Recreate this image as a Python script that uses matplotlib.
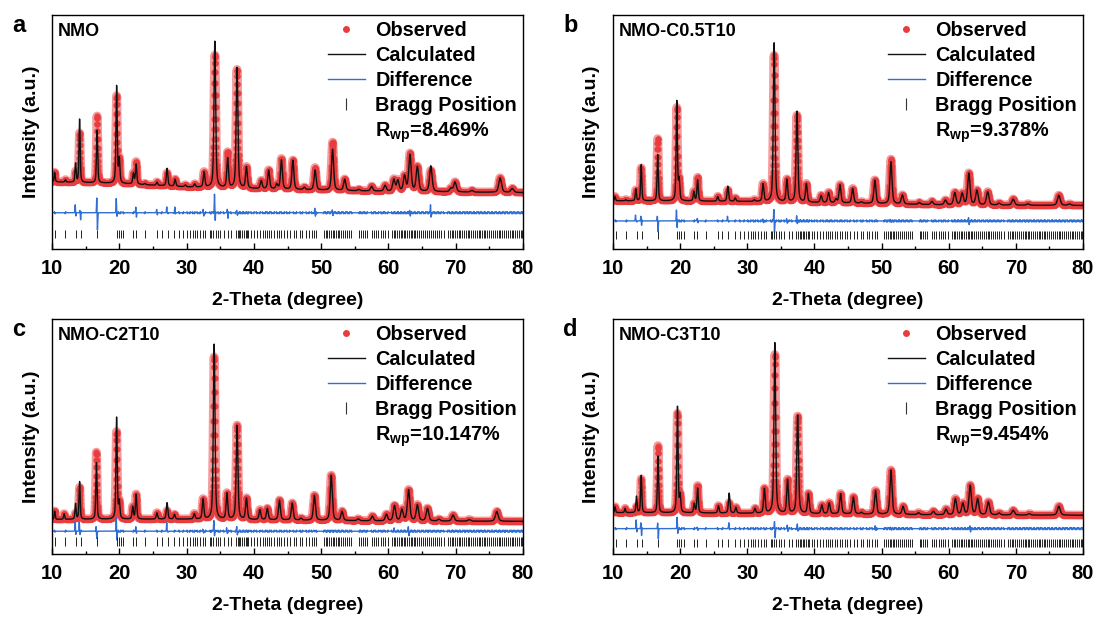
import numpy as np
import matplotlib
matplotlib.use('Agg')
import matplotlib.pyplot as plt
from matplotlib.lines import Line2D
from matplotlib.ticker import MultipleLocator

plt.rcParams['font.family'] = ['Liberation Sans', 'DejaVu Sans']
plt.rcParams['font.weight'] = 'bold'
plt.rcParams['mathtext.fontset'] = 'custom'
plt.rcParams['mathtext.rm'] = 'Liberation Sans:bold'
plt.rcParams['mathtext.it'] = 'Liberation Sans:bold'
plt.rcParams['mathtext.bf'] = 'Liberation Sans:bold'

# ---- reflections (2theta, degree) and intensities above background (a.u.) ----
pos_a = [10.4, 12.0, 13.5, 14.1, 16.7, 19.6, 20.0, 22.1, 22.5, 23.8, 25.6, 27.1, 28.3, 29.8, 31.2,
         32.6, 34.2, 36.1, 37.5, 38.9, 41.1, 42.2, 43.4, 44.1, 45.8, 47.5, 49.1, 51.7, 53.5, 55.6,
         57.5, 59.5, 60.8, 61.4, 62.4, 63.2, 64.3, 66.3, 69.3, 69.9, 72.4, 76.6, 78.4]
obs_a = [4.0, 1.0, 4.5, 21.0, 28.5, 37.0, 10.0, 4.5, 9.5, 0.5, 1.4, 5.5, 3.0, 0.8, 1.3,
         6.5, 56.5, 15.0, 50.5, 9.0, 3.4, 8.0, 2.0, 13.0, 12.5, 1.0, 9.5, 20.5, 4.8, 0.6,
         2.0, 2.5, 5.0, 4.5, 6.5, 16.0, 10.5, 9.0, 1.5, 4.2, 0.7, 6.2, 1.7]
calc_a = [4.0, 1.0, 8.0, 27.0, 22.5, 41.5, 10.0, 4.5, 8.5, 0.5, 1.4, 7.5, 3.0, 0.8, 1.3,
          6.5, 62.5, 12.5, 51.5, 9.0, 3.4, 8.0, 2.0, 12.5, 12.5, 1.0, 8.5, 17.5, 4.8, 0.6,
          2.0, 2.5, 5.0, 4.5, 6.5, 15.5, 10.5, 11.0, 1.5, 4.2, 0.7, 6.2, 1.7]

pos_b = [10.3, 11.9, 13.4, 14.2, 16.65, 19.5, 19.85, 22.05, 22.6, 25.6, 27.1, 28.2, 31.05, 32.35,
         34.0, 35.9, 37.4, 38.8, 41.0, 42.1, 43.2, 43.8, 45.7, 47.0, 49.0, 51.4, 53.1, 55.6, 57.5,
         59.5, 60.9, 62.0, 63.0, 64.2, 65.8, 67.5, 69.6, 71.8, 76.4, 78.0]
obs_b = [1.8, 0.5, 4.5, 14.0, 26.5, 39.5, 8.5, 4.0, 10.0, 2.0, 4.8, 1.4, 0.7, 7.5,
         62.5, 9.5, 37.0, 7.8, 3.0, 4.3, 1.5, 7.7, 6.2, 0.6, 10.0, 19.0, 3.8, 0.8, 1.4,
         2.0, 5.2, 4.8, 13.5, 6.2, 5.6, 0.8, 2.6, 0.6, 4.3, 0.6]
calc_b = [1.8, 0.5, 5.0, 15.4, 19.8, 42.6, 8.5, 4.0, 9.0, 2.0, 6.4, 1.4, 0.7, 7.5,
          67.9, 9.5, 38.8, 7.8, 3.0, 4.3, 1.5, 7.7, 6.2, 0.6, 10.0, 18.0, 3.8, 0.8, 1.4,
          2.0, 5.2, 4.8, 13.5, 6.2, 5.6, 0.8, 2.6, 0.6, 4.3, 0.6]

pos_c = [10.4, 11.8, 13.5, 14.1, 16.6, 19.6, 20.0, 22.0, 22.5, 25.6, 27.1, 28.2, 31.15, 32.45,
         34.1, 36.0, 37.5, 38.9, 40.9, 42.0, 43.8, 45.7, 47.0, 49.0, 51.5, 53.1, 55.5, 57.6,
         59.7, 60.9, 62.0, 63.0, 64.3, 65.8, 67.5, 69.6, 72.0, 76.1]
obs_c = [3.5, 2.4, 2.5, 13.5, 28.5, 37.0, 7.0, 5.2, 10.5, 2.7, 3.5, 2.0, 2.3, 8.5,
         69.0, 11.0, 40.0, 9.0, 4.2, 4.8, 8.4, 7.2, 0.8, 10.6, 19.2, 3.9, 0.8, 2.0,
         2.8, 6.5, 4.8, 13.2, 6.8, 5.4, 0.8, 2.6, 0.7, 4.2]
calc_c = [3.5, 2.4, 6.6, 16.0, 24.0, 43.2, 7.0, 5.2, 10.5, 2.7, 7.0, 2.0, 2.3, 8.5,
          74.5, 11.0, 40.0, 9.0, 4.2, 4.8, 8.4, 7.2, 0.8, 10.6, 19.2, 3.9, 0.8, 2.0,
          2.8, 6.5, 4.8, 13.2, 6.8, 5.4, 0.8, 2.6, 0.7, 4.2]

pos_d = [10.3, 11.8, 13.5, 14.2, 16.7, 19.6, 20.0, 22.1, 22.6, 25.7, 27.3, 28.3, 31.15, 32.55,
         34.1, 36.0, 37.5, 39.1, 41.1, 42.2, 43.9, 45.8, 47.0, 49.1, 51.4, 53.2, 55.5, 57.7,
         59.6, 61.0, 62.1, 63.2, 64.3, 65.9, 67.5, 69.6, 72.0, 76.4]
obs_d = [2.5, 1.8, 2.5, 14.3, 28.5, 42.0, 7.0, 3.8, 11.5, 3.1, 4.3, 2.4, 2.0, 10.4,
         67.5, 14.2, 41.3, 8.4, 3.7, 4.6, 8.6, 7.2, 0.7, 10.0, 18.8, 3.4, 0.8, 1.5,
         2.4, 6.8, 4.8, 12.5, 6.8, 5.5, 0.8, 2.0, 0.6, 3.8]
calc_d = [2.5, 1.8, 6.9, 15.8, 24.1, 45.1, 7.0, 3.8, 10.5, 3.1, 8.5, 2.4, 2.0, 10.4,
          72.6, 14.2, 41.8, 8.4, 3.7, 4.6, 8.6, 7.2, 0.7, 10.0, 18.8, 3.4, 0.8, 1.5,
          2.4, 6.8, 4.8, 12.5, 6.8, 5.5, 0.8, 2.0, 0.6, 3.8]

# background level under each pattern
bg_x = [10, 20, 30, 45, 60, 80]
bg_a = [28.7, 28.0, 26.5, 25.4, 24.6, 24.1]
bg_b = [20.6, 20.5, 20.3, 19.6, 18.8, 18.6]
bg_c = [14.7, 14.8, 14.8, 14.4, 14.0, 13.9]
bg_d = [17.6, 17.5, 17.3, 17.0, 16.6, 16.5]

# difference curve: misfit spikes (position, upper lobe, lower lobe)
dpos_a = [13.5, 14.2, 16.7, 19.6, 22.5, 25.6, 27.1, 28.3, 32.5, 34.2, 36.1, 37.5, 49.1, 51.7, 63.2, 66.3]
dup_a = [3.0, 1.0, 6.0, 6.5, 2.0, 1.0, 2.5, 2.0, 1.0, 8.0, 1.5, 1.0, 1.5, 0.8, 1.0, 3.0]
ddn_a = [1.0, 2.6, 7.0, 2.0, 1.5, 0.5, 0.5, 0.5, 1.0, 3.0, 2.0, 1.5, 1.5, 0.8, 1.0, 1.5]
dpos_b = [13.4, 14.2, 16.65, 19.5, 22.6, 27.1, 32.35, 34.0, 35.9, 37.4, 51.4, 63.0]
dup_b = [2.5, 2.0, 2.0, 4.7, 1.5, 2.0, 0.8, 4.5, 1.0, 1.8, 1.0, 1.0]
ddn_b = [0.5, 1.5, 4.6, 2.5, 0.8, 0.5, 0.8, 4.5, 1.0, 1.2, 1.0, 1.2]
dpos_c = [13.5, 14.1, 16.6, 19.6, 22.5, 27.1, 32.45, 34.1, 36.0, 37.5, 49.0, 60.9, 63.0]
dup_c = [3.6, 4.0, 2.0, 6.4, 1.5, 3.6, 0.8, 5.0, 1.5, 2.0, 0.8, 1.0, 1.5]
ddn_c = [1.0, 1.5, 3.5, 4.3, 0.5, 0.5, 0.5, 2.0, 1.0, 2.0, 0.6, 0.5, 1.5]
dpos_d = [13.5, 14.2, 16.7, 19.6, 22.6, 27.3, 34.1, 36.0, 37.5, 49.1, 51.4, 63.2]
dup_d = [3.3, 2.5, 2.0, 5.3, 1.0, 2.9, 3.5, 1.5, 2.0, 0.8, 1.0, 1.2]
ddn_d = [1.0, 2.5, 3.9, 2.5, 0.8, 0.5, 3.9, 1.2, 1.5, 0.8, 1.0, 1.0]

# Bragg reflection positions of the Pbam phase
bragg = [10.4, 12.0, 13.5, 14.3, 16.7, 19.6, 19.9, 20.2, 20.6, 22.1, 22.5, 23.8, 25.6, 26.3, 27.2,
         28.2, 28.9, 29.5, 30.1, 30.5, 30.9, 31.2, 31.6, 32.0, 32.5, 32.8, 33.5, 33.7, 34.0, 34.3,
         34.7, 35.0, 35.5, 36.2, 36.6, 37.3, 37.6, 37.8, 38.0, 38.3, 38.5, 38.8, 39.0, 39.2, 39.6,
         40.0, 40.4, 40.9, 41.3, 41.7, 42.0, 42.3, 42.6, 43.0, 43.4, 43.8, 44.1, 44.5, 44.9, 45.3,
         45.9, 46.3, 46.9, 47.2, 47.8, 48.2, 48.6, 49.0, 49.3, 50.4, 50.7, 50.9, 51.2, 51.4, 51.7,
         51.9, 52.2, 52.5, 52.7, 53.0, 53.3, 53.6, 53.9, 54.2, 54.5, 55.7, 55.9, 56.2, 56.5, 56.8,
         57.5, 57.8, 58.1, 58.5, 58.9, 59.2, 59.5, 59.9, 60.5, 60.8, 61.0, 61.3, 61.5, 61.8, 62.0,
         62.3, 62.5, 62.8, 63.0, 63.3, 63.5, 63.8, 64.0, 64.3, 64.6, 64.9, 65.2, 65.5, 65.8, 66.0,
         66.3, 66.6, 66.9, 67.2, 67.5, 67.8, 68.2, 68.8, 69.1, 69.4, 69.6, 69.9, 70.2, 70.5, 70.7,
         71.0, 71.3, 71.5, 71.8, 72.0, 72.3, 72.6, 72.8, 73.1, 73.4, 73.6, 73.9, 74.2, 74.4, 74.7,
         75.0, 75.3, 75.5, 75.8, 76.1, 76.4, 76.6, 76.9, 77.2, 77.4, 77.7, 78.0, 78.3, 78.5, 78.8,
         79.1, 79.4, 79.7, 79.9]
# small residual left at every reflection
ripple = 0.45

samples = ['NMO', 'NMO-C0.5T10', 'NMO-C2T10', 'NMO-C3T10']
rwp = ['8.469', '9.378', '10.147', '9.454']
letters = ['a', 'b', 'c', 'd']

RED = '#e83c3e'
BLUE = '#2f6fd3'

two_theta = np.arange(10, 80.001, 0.01)


def profile(x, pos, height, bg):
    y = np.interp(x, bg_x, bg)
    for p, h in zip(pos, height):
        w = 0.18 + 0.0045 * (p - 10)
        d = (x - p) / (w / 2)
        y = y + h * (0.5 / (1 + d ** 2) + 0.5 * np.exp(-np.log(2) * d ** 2))
    return y


def lobes(x, p, up, down, s=0.05):
    return up * np.exp(-((x - p + s) / s) ** 2) - down * np.exp(-((x - p - s) / s) ** 2)


def difference(x, pos, up, down, base):
    y = np.full_like(x, base)
    for p, u, dn in zip(pos, up, down):
        y = y + lobes(x, p, u, dn)
    for k, p in enumerate(bragg):
        sign = 1 if k % 2 == 0 else -1
        y = y + lobes(x, p, sign * ripple, sign * ripple, 0.04)
    return y


W, H = 1102, 617
# axes boxes in pixels: left, right, top, bottom
boxes = [(52, 523, 15, 249), (613, 1083, 15, 249), (52, 523, 319, 554), (613, 1083, 319, 554)]
letter_xy = [(12, 26), (563, 26), (12, 329), (563, 329)]

panels = [
    dict(pos=pos_a, obs=obs_a, calc=calc_a, bg=bg_a, dpos=dpos_a, dup=dup_a, ddn=ddn_a,
         dbase=15.5, tick=(4.6, 8.2)),
    dict(pos=pos_b, obs=obs_b, calc=calc_b, bg=bg_b, dpos=dpos_b, dup=dup_b, ddn=ddn_b,
         dbase=12.0, tick=(4.3, 7.7)),
    dict(pos=pos_c, obs=obs_c, calc=calc_c, bg=bg_c, dpos=dpos_c, dup=dup_c, ddn=ddn_c,
         dbase=9.7, tick=(3.6, 7.1)),
    dict(pos=pos_d, obs=obs_d, calc=calc_d, bg=bg_d, dpos=dpos_d, dup=dup_d, ddn=ddn_d,
         dbase=10.8, tick=(2.9, 6.3)),
]

fig = plt.figure(figsize=(W / 100, H / 100), dpi=100)

for i, p in enumerate(panels):
    l, r, t, b = boxes[i]
    ax = fig.add_axes([l / W, 1 - b / H, (r - l) / W, (b - t) / H])
    y_obs = profile(two_theta, p['pos'], p['obs'], p['bg'])
    y_calc = profile(two_theta, p['pos'], p['calc'], p['bg'])
    y_diff = difference(two_theta, p['dpos'], p['dup'], p['ddn'], p['dbase'])

    ax.plot(two_theta, y_obs, color=RED, lw=6.5, alpha=0.5, solid_capstyle='round')
    ax.plot(two_theta[::2], y_obs[::2], ls='none', marker='o', ms=4.5, mew=0, color=RED, alpha=0.9)
    ax.plot(two_theta, y_calc, color='#111111', lw=1.0)
    ax.plot(two_theta, y_diff, color=BLUE, lw=1.0)
    ax.vlines(bragg, p['tick'][0], p['tick'][1], color='#222222', lw=0.7)

    ax.set_xlim(10, 80)
    ax.set_ylim(0, 100)
    ax.set_yticks([])
    ax.xaxis.set_major_locator(MultipleLocator(10))
    ax.xaxis.set_minor_locator(MultipleLocator(5))
    ax.tick_params(axis='x', which='major', direction='in', length=4, width=1, labelsize=14.5, pad=7)
    ax.tick_params(axis='x', which='minor', direction='in', length=2.5, width=1)
    for s in ax.spines.values():
        s.set_linewidth(1.0)
    ax.set_xlabel('2-Theta (degree)', fontsize=14, fontweight='bold', labelpad=10)
    ax.set_ylabel('Intensity (a.u.)', fontsize=14, fontweight='bold', labelpad=9)

    ax.text(0.012, 0.93, samples[i], transform=ax.transAxes, fontsize=13, fontweight='bold',
            ha='left', va='center')

    handles = [
        Line2D([], [], ls='none', marker='o', ms=5, mew=0, color=RED),
        Line2D([], [], color='#111111', lw=1.0),
        Line2D([], [], color=BLUE, lw=1.0),
        Line2D([], [], ls='none', marker='|', ms=8, mew=0.8, color='#333333'),
        Line2D([], [], ls='none'),
    ]
    labels = ['Observed', 'Calculated', 'Difference', 'Bragg Position',
              r'R$_{\mathregular{wp}}$=' + rwp[i] + '%']
    ax.legend(handles, labels, loc='upper right', bbox_to_anchor=(1.0, 1.0), frameon=False,
              fontsize=14.3, handlelength=1.9, handletextpad=0.5, labelspacing=0.3,
              borderpad=0.3, borderaxespad=0)

    lx, ly = letter_xy[i]
    fig.text(lx / W, 1 - ly / H, letters[i], fontsize=17, fontweight='bold',
             ha='left', va='center')

fig.savefig('out.png', dpi=100)
